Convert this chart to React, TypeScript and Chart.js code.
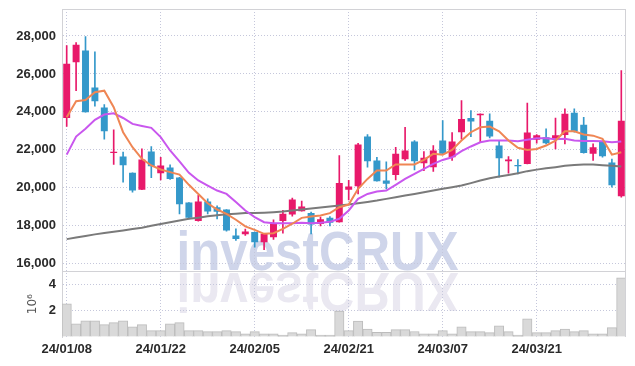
import React, { useEffect, useRef } from 'react';
import { Chart, registerables } from 'chart.js';
Chart.register(...registerables);

const dates = ['24/01/08','24/01/09','24/01/10','24/01/11','24/01/12','24/01/15','24/01/16','24/01/17','24/01/18','24/01/19','24/01/22','24/01/23','24/01/24','24/01/25','24/01/26','24/01/29','24/01/30','24/01/31','24/02/01','24/02/02','24/02/05','24/02/06','24/02/07','24/02/08','24/02/13','24/02/14','24/02/15','24/02/16','24/02/19','24/02/20','24/02/21','24/02/22','24/02/23','24/02/26','24/02/27','24/02/28','24/02/29','24/03/04','24/03/05','24/03/06','24/03/07','24/03/08','24/03/11','24/03/12','24/03/13','24/03/14','24/03/15','24/03/18','24/03/19','24/03/20','24/03/21','24/03/22','24/03/25','24/03/26','24/03/27','24/03/28','24/03/29','24/04/01','24/04/02','24/04/03'];

const opens = [23680, 26610, 27230, 25280, 24230, 21830, 21650, 20790, 19900, 21910, 20770, 21070, 20540, 19230, 18250, 19280, 18980, 18860, 17490, 17560, 17670, 17140, 17400, 18250, 18600, 18770, 18680, 18090, 18420, 18190, 19900, 20090, 22700, 21440, 20390, 20680, 21510, 22440, 21300, 21090, 22490, 21610, 22930, 23680, 23830, 23540, 22230, 21400, 21210, 21260, 22530, 22670, 22600, 22790, 23950, 23330, 21790, 22440, 21330, 19560];
const closes = [26530, 27540, 23980, 24560, 22980, 21900, 21190, 19860, 21490, 21140, 21180, 20470, 19140, 18420, 19280, 18750, 18740, 17750, 17300, 17700, 17140, 17580, 18110, 18630, 19390, 19020, 18070, 18350, 18160, 20260, 20070, 22280, 21400, 20350, 20210, 21790, 21970, 21400, 21580, 21970, 21790, 22440, 23630, 23490, 23900, 22700, 21560, 21490, 21140, 22910, 22770, 22350, 22770, 23900, 22970, 21830, 22140, 21670, 20140, 23540];
const highs = [27490, 27650, 27970, 27160, 24390, 23050, 21880, 20790, 22050, 22180, 21610, 21210, 20560, 19230, 19600, 19420, 19050, 18860, 17840, 17830, 17670, 17580, 18320, 18810, 19460, 19300, 18720, 18460, 18490, 21700, 20390, 22350, 22810, 21610, 21370, 22140, 23190, 22490, 21910, 22230, 23540, 22910, 24600, 24070, 23900, 23900, 22460, 21650, 21490, 24470, 22810, 23110, 23680, 24160, 24160, 23720, 22320, 22440, 21510, 26180];
const lows = [23230, 25120, 23980, 24300, 22560, 21230, 20300, 19770, 19900, 20530, 20420, 20440, 18630, 18370, 18250, 18630, 18370, 17720, 17230, 17490, 16880, 16740, 17280, 17610, 18510, 18770, 17580, 18000, 18000, 18190, 19370, 19680, 21090, 20350, 19950, 20420, 21440, 20950, 20910, 20860, 21790, 21440, 22560, 22700, 22400, 22630, 20560, 20770, 20740, 21260, 22350, 22320, 22050, 22320, 22930, 21830, 21440, 21610, 20040, 19510];

// volume in millions of shares
const volumes = [2.53, 1.01, 1.24, 1.24, 0.94, 1.09, 1.24, 0.78, 0.94, 0.48, 0.48, 1.01, 1.09, 0.48, 0.48, 0.41, 0.41, 0.48, 0.41, 0.25, 0.41, 0.25, 0.25, 0.15, 0.33, 0.25, 0.56, 0.15, 0.15, 1.98, 0.48, 1.21, 0.60, 0.35, 0.35, 0.56, 0.56, 0.42, 0.25, 0.25, 0.48, 0.25, 0.78, 0.41, 0.41, 0.33, 0.86, 0.41, 0.15, 1.39, 0.33, 0.33, 0.48, 0.60, 0.41, 0.48, 0.25, 0.25, 0.71, 4.51];

const maShort = [23720, 24560, 24630, 25040, 25120, 24250, 22930, 22140, 21530, 21180, 20970, 20830, 20700, 20160, 19680, 19190, 18860, 18630, 18320, 17970, 17790, 17580, 17610, 17840, 18110, 18420, 18490, 18540, 18670, 18980, 19120, 19950, 20470, 20910, 20910, 21230, 21230, 21230, 21470, 21790, 21750, 22000, 22490, 22930, 23190, 23230, 22980, 22490, 22110, 22000, 22050, 22230, 22490, 22980, 22980, 22810, 22750, 22580, 21750, 21880];
const maMid = [21750, 22700, 23110, 23580, 23860, 23930, 23680, 23370, 23260, 23160, 22670, 21970, 21400, 20790, 20390, 20120, 19860, 19680, 19250, 18810, 18460, 18190, 18140, 18140, 18140, 18160, 18140, 18160, 18210, 18370, 18810, 19420, 19680, 19810, 19860, 20160, 20470, 20740, 21000, 21260, 21470, 21610, 21930, 22180, 22400, 22490, 22490, 22490, 22460, 22530, 22610, 22610, 22560, 22580, 22490, 22470, 22470, 22460, 22400, 22440];
const maLong = [17300, 17380, 17470, 17550, 17620, 17690, 17760, 17830, 17900, 18000, 18100, 18190, 18280, 18370, 18430, 18500, 18560, 18610, 18640, 18670, 18670, 18690, 18720, 18750, 18810, 18860, 18910, 18960, 19020, 19070, 19120, 19190, 19260, 19330, 19420, 19510, 19600, 19680, 19770, 19860, 19950, 20030, 20120, 20250, 20390, 20510, 20600, 20680, 20770, 20880, 20960, 21030, 21090, 21160, 21210, 21230, 21230, 21190, 21160, 21120];

const priceTicks = [16000, 18000, 20000, 22000, 24000, 26000, 28000];
const volumeTicks = [2, 4];

const UP = '#e8196a';
const DOWN = '#3498ca';
const GRID = '#c5c7db';
const BORDER = '#d2d2d6';
const TICK_FONT = { family: '"Liberation Sans", Arial, sans-serif', size: 13, weight: 'bold' as const };

export default function App() {
  const ref = useRef<HTMLCanvasElement>(null);
  useEffect(() => {
    const canvas = ref.current;
    if (!canvas) return;
    const colors = closes.map((c, i) => (c >= opens[i] ? UP : DOWN));

    const watermark = {
      id: 'watermark',
      beforeDraw(chart: any) {
        const c = chart.ctx;
        const base = chart.scales.y.bottom;
        const cx = chart.width / 2;
        c.save();
        c.font = 'bold 56px "Liberation Sans", Arial, sans-serif';
        const w = c.measureText('investCRUX').width;
        c.textAlign = 'center';
        c.textBaseline = 'alphabetic';
        c.translate(cx, base);
        c.scale(282 / w, 1);
        c.fillStyle = '#cfd5ea';
        c.fillText('investCRUX', 0, -1);
        c.scale(1, -1);
        c.fillStyle = '#eae8f1';
        c.fillText('investCRUX', 0, -2);
        c.restore();
      },
    };

    const frame = {
      id: 'frame',
      afterDatasetsDraw(chart: any) {
        const c = chart.ctx;
        const a = chart.chartArea;
        const sep = chart.scales.y.bottom;
        c.save();
        c.strokeStyle = BORDER;
        c.lineWidth = 1;
        c.beginPath();
        c.moveTo(a.left, a.top + 0.5);
        c.lineTo(a.right, a.top + 0.5);
        c.moveTo(a.right - 0.5, a.top);
        c.lineTo(a.right - 0.5, a.bottom);
        c.moveTo(a.left, Math.round(sep) + 0.5);
        c.lineTo(a.right, Math.round(sep) + 0.5);
        c.stroke();
        c.restore();
      },
    };

    const fitY = (s: any) => { s.width = 46; s.paddingTop = 0; s.paddingBottom = 0; };

    const chart = new Chart(canvas, {
      type: 'bar',
      data: {
        labels: dates,
        datasets: [
          { type: 'line', label: 'MA5', data: maShort, yAxisID: 'y', borderColor: '#ef8654', borderWidth: 2, pointRadius: 0, tension: 0 },
          { type: 'line', label: 'MA10', data: maMid, yAxisID: 'y', borderColor: '#c957ee', borderWidth: 2, pointRadius: 0, tension: 0 },
          { type: 'line', label: 'MA long', data: maLong, yAxisID: 'y', borderColor: '#7a7a7a', borderWidth: 2, pointRadius: 0, tension: 0 },
          { type: 'bar', label: 'body', data: opens.map((o, i) => [o, closes[i]]), yAxisID: 'y', backgroundColor: colors, grouped: false, barPercentage: 0.74, categoryPercentage: 1 } as any,
          { type: 'bar', label: 'wick', data: lows.map((l, i) => [l, highs[i]]), yAxisID: 'y', backgroundColor: colors, grouped: false, barThickness: 1 } as any,
          { type: 'bar', label: 'volume', data: volumes, yAxisID: 'yVol', backgroundColor: '#d9d9d9', borderColor: '#bcbcbc', borderWidth: 1, grouped: false, barPercentage: 1, categoryPercentage: 1 } as any,
        ],
      },
      options: {
        animation: false,
        responsive: true,
        maintainAspectRatio: false,
        layout: { padding: { left: 8, right: 1, top: 1, bottom: 0 } },
        plugins: { legend: { display: false }, tooltip: { enabled: false } },
        scales: {
          x: {
            type: 'category',
            offset: true,
            afterFit: (s: any) => { s.height = 21; s.paddingLeft = 0; s.paddingRight = 0; },
            grid: {
              offset: false,
              drawTicks: false,
              color: (ctx: any) => (ctx.index % 10 === 0 ? GRID : 'rgba(0,0,0,0)'),
            },
            border: { display: false, dash: [1, 2] },
            ticks: {
              autoSkip: false,
              maxRotation: 0,
              padding: 5,
              color: '#2a2a2a',
              font: TICK_FONT,
              callback: (_v: any, i: number) => (i % 10 === 0 ? dates[i] : ''),
            },
          },
          yVol: {
            type: 'linear',
            position: 'left',
            stack: 'panels',
            stackWeight: 1,
            min: 0,
            max: 5,
            afterBuildTicks: (s: any) => { s.ticks = [0, ...volumeTicks].map((v) => ({ value: v })); },
            afterFit: fitY,
            grid: { drawTicks: false, color: (ctx: any) => (ctx.tick && ctx.tick.value === 0 ? 'rgba(0,0,0,0)' : GRID) },
            border: { color: BORDER, dash: [1, 2] },
            title: { display: true, text: '10⁶', color: '#555', font: { family: '"DejaVu Sans", sans-serif', size: 12 }, padding: { top: 10, bottom: 0 } },
            ticks: { autoSkip: false, padding: 6, color: '#2a2a2a', font: TICK_FONT, callback: (v: any) => (v === 0 ? '' : String(v)) },
          },
          y: {
            type: 'linear',
            position: 'left',
            stack: 'panels',
            stackWeight: 4,
            min: 15600,
            max: 29420,
            afterBuildTicks: (s: any) => { s.ticks = priceTicks.map((v) => ({ value: v })); },
            afterFit: fitY,
            grid: { drawTicks: false, color: GRID },
            border: { color: BORDER, dash: [1, 2] },
            ticks: { autoSkip: false, padding: 6, color: '#2a2a2a', font: TICK_FONT, callback: (v: any) => Number(v).toLocaleString('en-US') },
          },
        },
      } as any,
      plugins: [watermark, frame],
    });
    return () => chart.destroy();
  }, []);
  return (
    <div style={{ position: 'relative', width: '619px', height: '350px' }}>
      <canvas ref={ref} />
    </div>
  );
}
